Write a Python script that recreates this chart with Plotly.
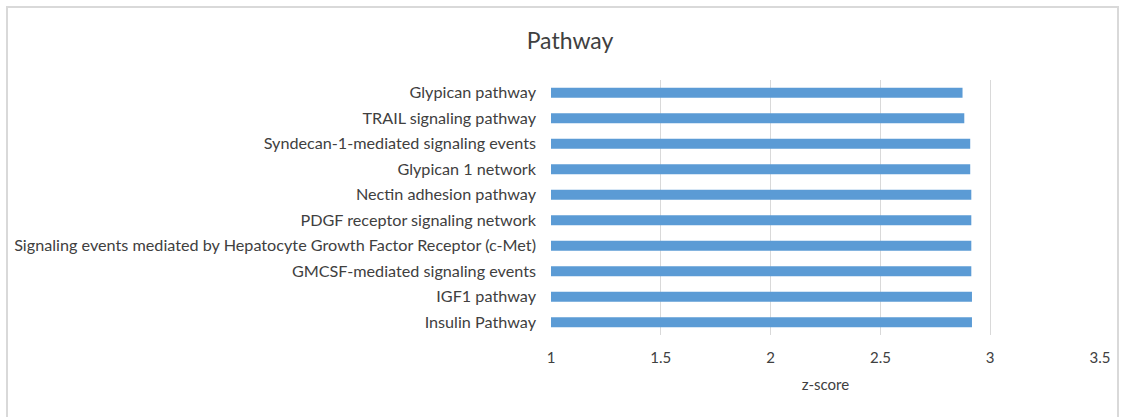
import plotly.graph_objects as go

pathways = [
    "Glypican pathway",
    "TRAIL signaling pathway",
    "Syndecan-1-mediated signaling events",
    "Glypican 1 network",
    "Nectin adhesion pathway",
    "PDGF receptor signaling network",
    "Signaling events mediated by Hepatocyte Growth Factor Receptor (c-Met)",
    "GMCSF-mediated signaling events",
    "IGF1 pathway",
    "Insulin Pathway",
]
z_scores = [2.874, 2.882, 2.909, 2.909, 2.914, 2.914, 2.914, 2.914, 2.917, 2.917]
x_ticks = [1, 1.5, 2, 2.5, 3, 3.5]
x_tick_labels = ["1", "1.5", "2", "2.5", "3", "3.5"]

FONT = "Lato"
TXT = "#404040"
AXIS_MIN = 1

fig = go.Figure(
    go.Bar(
        x=[v - AXIS_MIN for v in z_scores],
        y=pathways,
        base=AXIS_MIN,
        orientation="h",
        marker=dict(color="#5b9bd5", line=dict(width=0)),
        customdata=z_scores,
        hovertemplate="%{y}: %{customdata}<extra></extra>",
    )
)

fig.update_layout(
    width=1126,
    height=417,
    margin=dict(l=551, r=26, t=80, b=82),
    paper_bgcolor="white",
    plot_bgcolor="white",
    bargap=0.6,
    showlegend=False,
    title=dict(
        text="Pathway",
        x=570 / 1126,
        xref="container",
        xanchor="center",
        y=1 - 41 / 417,
        yanchor="middle",
        font=dict(family=FONT, size=23, color=TXT),
    ),
    font=dict(family=FONT, size=14, color=TXT),
)

fig.update_xaxes(
    range=[1, 3.5],
    tickvals=x_ticks,
    ticktext=x_tick_labels,
    showgrid=True,
    gridcolor="#d9d9d9",
    gridwidth=1,
    zeroline=False,
    showline=False,
    ticks="",
    ticklabelstandoff=12,
    tickfont=dict(family=FONT, size=15, color=TXT),
    title=dict(text="z-score", font=dict(family=FONT, size=15, color=TXT), standoff=14),
)
fig.update_yaxes(
    autorange="reversed",
    showgrid=False,
    showline=False,
    ticks="",
    ticklabelstandoff=14,
    tickfont=dict(family=FONT, size=16.2, color=TXT),
)

# outer chart frame
fig.add_shape(
    type="rect",
    xref="paper",
    yref="paper",
    x0=(7 - 551) / 549,
    x1=(1118 - 551) / 549,
    y0=(335 - 425) / 255,
    y1=(335 - 7) / 255,
    line=dict(color="#d9d9d9", width=2),
    fillcolor="rgba(0,0,0,0)",
    layer="below",
)

fig.write_html(
    "out.html",
    config={"displayModeBar": False},
    post_script="document.body.style.margin='0px';document.body.style.overflow='hidden';",
)
